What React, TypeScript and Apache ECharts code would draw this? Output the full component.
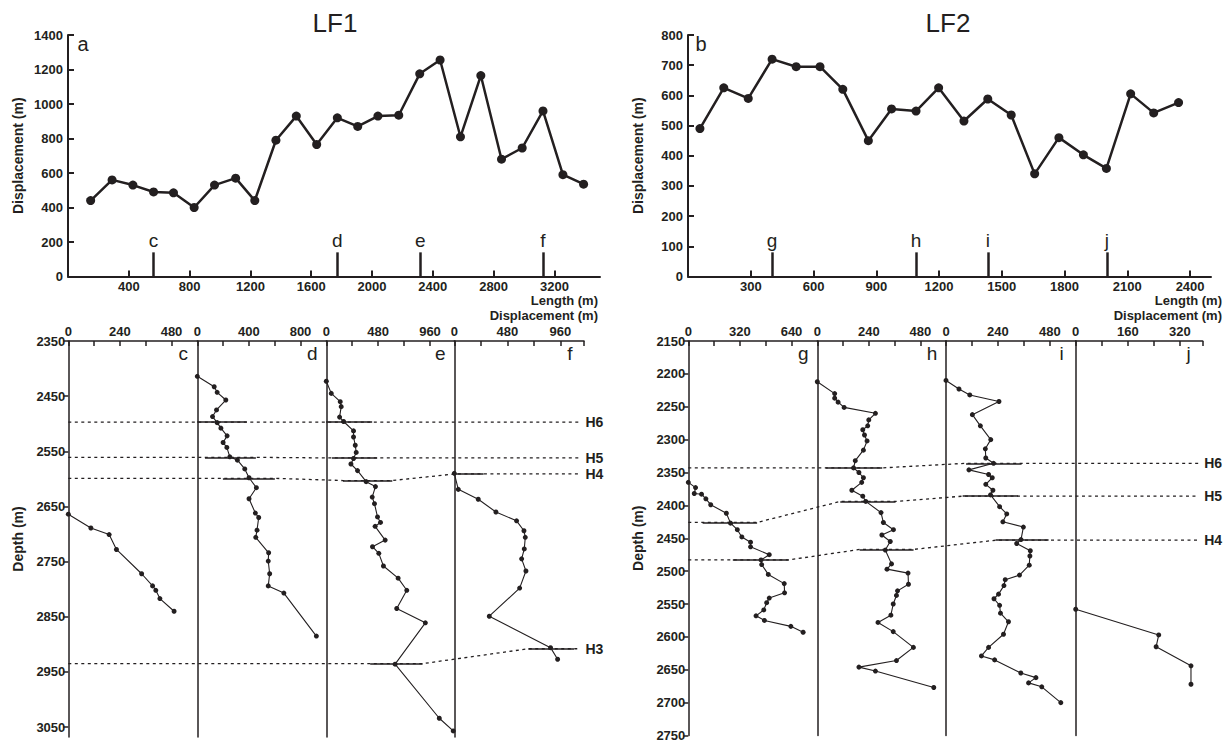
import { useEffect, useRef } from 'react';
import * as echarts from 'echarts';

const INK = '#231f20';
const FONT = '"Liberation Sans", Arial, Helvetica, sans-serif';

// ---------- top profiles ----------
const lf1Length = [149, 290, 427, 563, 694, 830, 964, 1103, 1229, 1368, 1502, 1636, 1772, 1906, 2039, 2176, 2314, 2448, 2582, 2716, 2852, 2988, 3125, 3256, 3392];
const lf1Displacement = [440, 560, 530, 490, 485, 400, 530, 570, 440, 790, 930, 765, 920, 870, 930, 935, 1175, 1255, 810, 1165, 680, 745, 960, 590, 535];
const lf1Wells = ['c', 'd', 'e', 'f'];
const lf1WellLength = [563, 1772, 2317, 3125];
const lf1WellMark = 140;
const lf1LengthTicks = [400, 800, 1200, 1600, 2000, 2400, 2800, 3200];
const lf1DisplacementTicks = [0, 200, 400, 600, 800, 1000, 1200, 1400];

const lf2Length = [57, 171, 288, 402, 517, 631, 740, 862, 973, 1090, 1198, 1319, 1433, 1545, 1657, 1773, 1890, 2000, 2116, 2226, 2345];
const lf2Displacement = [490, 625, 590, 720, 695, 695, 620, 450, 555, 548, 625, 515, 588, 535, 340, 460, 403, 358, 605, 542, 576];
const lf2Wells = ['g', 'h', 'i', 'j'];
const lf2WellLength = [402, 1090, 1433, 2002];
const lf2WellMark = 80;
const lf2LengthTicks = [300, 600, 900, 1200, 1500, 1800, 2100, 2400];
const lf2DisplacementTicks = [0, 100, 200, 300, 400, 500, 600, 700, 800];

// ---------- wells: [displacement, depth] ----------
const wellC = [[0, 2664], [105, 2689], [190, 2701], [224, 2728], [341, 2772], [392, 2794], [407, 2802], [426, 2817], [492, 2840]];
const wellD = [[0, 2414], [131, 2433], [154, 2443], [221, 2457], [149, 2475], [118, 2487], [154, 2498], [183, 2508], [231, 2522], [200, 2534], [229, 2543], [252, 2560], [311, 2566], [368, 2582], [401, 2598], [458, 2616], [401, 2636], [450, 2662], [476, 2670], [463, 2693], [453, 2706], [553, 2734], [550, 2749], [561, 2772], [550, 2794], [671, 2807], [923, 2885]];
const wellE = [[0, 2423], [46, 2445], [129, 2460], [138, 2469], [123, 2488], [160, 2496], [252, 2513], [252, 2524], [268, 2539], [277, 2552], [252, 2563], [228, 2573], [289, 2585], [369, 2605], [455, 2614], [425, 2633], [446, 2645], [474, 2669], [502, 2679], [452, 2686], [545, 2711], [428, 2723], [486, 2735], [529, 2758], [665, 2780], [745, 2802], [652, 2835], [917, 2861], [637, 2936], [1046, 3034], [1175, 3057]];
const wellF = [[0, 2590], [36, 2619], [217, 2637], [377, 2660], [564, 2676], [631, 2694], [643, 2706], [634, 2727], [610, 2745], [649, 2767], [592, 2798], [317, 2849], [872, 2906], [936, 2927]];

const wellG = [[0, 2365], [45, 2373], [37, 2382], [82, 2383], [109, 2390], [139, 2399], [236, 2412], [262, 2427], [304, 2437], [332, 2448], [386, 2456], [386, 2463], [502, 2475], [451, 2483], [455, 2490], [496, 2505], [595, 2519], [597, 2533], [502, 2541], [486, 2548], [468, 2559], [420, 2568], [472, 2575], [636, 2584], [712, 2593]];
const wellH = [[0, 2212], [81, 2230], [81, 2237], [97, 2243], [125, 2251], [271, 2260], [240, 2270], [235, 2279], [212, 2285], [220, 2293], [232, 2302], [215, 2316], [177, 2332], [169, 2343], [194, 2350], [215, 2358], [207, 2365], [161, 2377], [212, 2386], [226, 2394], [297, 2411], [308, 2426], [355, 2437], [301, 2445], [340, 2455], [317, 2468], [346, 2489], [325, 2497], [423, 2503], [425, 2520], [374, 2530], [369, 2537], [354, 2550], [343, 2567], [283, 2578], [354, 2592], [448, 2616], [369, 2636], [194, 2646], [271, 2652], [543, 2677]];
const wellI = [[0, 2210], [60, 2223], [110, 2232], [245, 2242], [122, 2262], [159, 2279], [207, 2300], [182, 2314], [184, 2328], [220, 2336], [106, 2346], [197, 2353], [214, 2358], [184, 2368], [217, 2377], [206, 2384], [248, 2402], [281, 2413], [263, 2425], [358, 2433], [347, 2452], [327, 2458], [390, 2469], [388, 2477], [385, 2491], [340, 2506], [274, 2513], [268, 2522], [243, 2535], [222, 2542], [248, 2552], [252, 2564], [289, 2577], [266, 2596], [197, 2616], [164, 2629], [225, 2635], [346, 2655], [416, 2662], [382, 2670], [443, 2676], [531, 2700]];
const wellJ = [[0, 2558], [255, 2597], [247, 2615], [354, 2644], [354, 2672]];

const lf1DepthTicks = [2350, 2450, 2550, 2650, 2750, 2850, 2950, 3050];
const lf2DepthTicks = [2150, 2200, 2250, 2300, 2350, 2400, 2450, 2500, 2550, 2600, 2650, 2700, 2750];

const lf1Panels = [
  { name: 'c', data: wellC, max: 600, ticks: [0, 120, 240, 360, 480], labels: [0, 240, 480] },
  { name: 'd', data: wellD, max: 1000, ticks: [0, 200, 400, 600, 800], labels: [0, 400, 800] },
  { name: 'e', data: wellE, max: 1185, ticks: [0, 240, 480, 720, 960], labels: [0, 480, 960] },
  { name: 'f', data: wellF, max: 1175, ticks: [0, 240, 480, 720, 960, 1175], labels: [0, 480, 960] },
];
const lf2Panels = [
  { name: 'g', data: wellG, max: 800, ticks: [0, 160, 320, 480, 640], labels: [0, 320, 640] },
  { name: 'h', data: wellH, max: 600, ticks: [0, 120, 240, 360, 480], labels: [0, 240, 480] },
  { name: 'i', data: wellI, max: 600, ticks: [0, 120, 240, 360, 480], labels: [0, 240, 480] },
  { name: 'j', data: wellJ, max: 390, ticks: [0, 80, 160, 240, 320, 390], labels: [0, 160, 320] },
];

// horizon picks: panel index, depth, solid tick from/to in that well's displacement units
const lf1Horizons = [
  { name: 'H6', picks: [{ panel: 1, depth: 2497, from: 0, to: 385 }, { panel: 2, depth: 2497, from: 0, to: 423 }] },
  { name: 'H5', picks: [{ panel: 1, depth: 2561, from: 60, to: 455 }, { panel: 2, depth: 2562, from: 53, to: 469 }] },
  { name: 'H4', picks: [{ panel: 1, depth: 2599, from: 199, to: 602 }, { panel: 2, depth: 2603, from: 155, to: 608 }, { panel: 3, depth: 2591, from: 0, to: 260 }] },
  { name: 'H3', picks: [{ panel: 2, depth: 2935, from: 405, to: 886 }, { panel: 3, depth: 2908, from: 668, to: 1084 }] },
];
const lf2Horizons = [
  { name: 'H6', picks: [{ panel: 1, depth: 2343, from: 41, to: 305 }, { panel: 2, depth: 2336, from: 96, to: 355 }] },
  { name: 'H5', picks: [{ panel: 0, depth: 2426, from: 89, to: 428 }, { panel: 1, depth: 2394, from: 109, to: 367 }, { panel: 2, depth: 2386, from: 80, to: 339 }] },
  { name: 'H4', picks: [{ panel: 0, depth: 2483, from: 277, to: 624 }, { panel: 1, depth: 2467, from: 199, to: 451 }, { panel: 2, depth: 2453, from: 234, to: 481 }] },
];

// ---------- layout (pixels) ----------
const topLeftBox = { left: 68, top: 35, width: 532, height: 241.5 };
const topRightBox = { left: 688, top: 35, width: 523, height: 241.5 };
const lf1PanelBoxes = [
  { left: 68.3, width: 129 }, { left: 197.3, width: 129 }, { left: 326.3, width: 128 }, { left: 454.3, width: 129.7 },
];
const lf2PanelBoxes = [
  { left: 688.3, width: 129 }, { left: 817.3, width: 128.7 }, { left: 946, width: 129.7 }, { left: 1075.7, width: 127 },
];
const bottomTop = 341;

function buildOption() {
  const grid: any[] = [];
  const xAxis: any[] = [];
  const yAxis: any[] = [];
  const series: any[] = [];
  const graphic: any[] = [];
  const txt = { color: INK, fontFamily: FONT, fontSize: 13, fontWeight: 'bold' as const };
  const plain = (v: number) => String(v);

  function addProfile(box: any, lengths: number[], disps: number[], xMax: number, yMax: number,
    xTicks: number[], yTicks: number[], wells: string[], wellPos: number[], markH: number) {
    const gi = grid.length;
    grid.push({ ...box });
    xAxis.push({
      gridIndex: gi, type: 'value', min: 0, max: xMax,
      axisLine: { show: true, onZero: false, lineStyle: { color: INK, width: 2 } },
      axisTick: { show: true, inside: true, length: 6, customValues: xTicks, lineStyle: { color: INK, width: 2 } },
      axisLabel: { show: true, customValues: xTicks, margin: 3, formatter: plain, ...txt },
      splitLine: { show: false },
    });
    yAxis.push({
      gridIndex: gi, type: 'value', min: 0, max: yMax,
      name: 'Displacement (m)', nameLocation: 'middle', nameGap: 43,
      nameTextStyle: { ...txt, fontSize: 14 },
      axisLine: { show: true, onZero: false, lineStyle: { color: INK, width: 2 } },
      axisTick: { show: true, inside: true, length: 6, customValues: yTicks, lineStyle: { color: INK, width: 2 } },
      axisLabel: { show: true, customValues: yTicks, margin: 5, formatter: plain, ...txt },
      splitLine: { show: false },
    });
    series.push({
      type: 'line', xAxisIndex: gi, yAxisIndex: gi,
      data: lengths.map((x, i) => [x, disps[i]]),
      symbol: 'circle', symbolSize: 9,
      lineStyle: { color: INK, width: 2.5 }, itemStyle: { color: INK },
      markLine: {
        silent: true, symbol: ['none', 'none'], animation: false,
        lineStyle: { color: INK, width: 2.5, type: 'solid' },
        label: { show: true, position: 'end', formatter: '{b}', color: INK, fontFamily: FONT, fontSize: 19, distance: 2 },
        data: wells.map((n, i) => [{ name: n, coord: [wellPos[i], 0] }, { coord: [wellPos[i], markH] }]),
      },
    });
  }

  function addWells(panels: any[], boxes: any[], dMin: number, dMax: number, height: number,
    depthTicks: number[], horizons: any[]) {
    panels.forEach((p, idx) => {
      const gi = grid.length;
      grid.push({ left: boxes[idx].left, width: boxes[idx].width, top: bottomTop, height });
      xAxis.push({
        gridIndex: gi, type: 'value', position: 'top', min: 0, max: p.max,
        axisLine: { show: true, onZero: false, lineStyle: { color: INK, width: 1.5 } },
        axisTick: { show: true, inside: true, length: 5, customValues: p.ticks, lineStyle: { color: INK, width: 1.5 } },
        axisLabel: { show: true, customValues: p.labels, margin: 3, formatter: plain, ...txt },
        splitLine: { show: false },
      });
      yAxis.push({
        gridIndex: gi, type: 'value', inverse: true, min: dMin, max: dMax,
        name: idx === 0 ? 'Depth (m)' : '', nameLocation: 'middle', nameGap: 43,
        nameTextStyle: { ...txt, fontSize: 14 },
        axisLine: { show: true, onZero: false, lineStyle: { color: INK, width: 1.5 } },
        axisTick: { show: idx === 0, inside: false, length: 5, customValues: depthTicks, lineStyle: { color: INK, width: 1.5 } },
        axisLabel: { show: idx === 0, customValues: depthTicks, margin: 3, formatter: plain, ...txt },
        splitLine: { show: false },
      });
      series.push({
        type: 'line', xAxisIndex: gi, yAxisIndex: gi, data: p.data,
        symbol: 'circle', symbolSize: 5, z: 3,
        lineStyle: { color: INK, width: 1.1 }, itemStyle: { color: INK },
      });
      const b = boxes[idx];
      graphic.push({
        type: 'text', x: b.left + b.width - 14, y: bottomTop + 12,
        style: { text: p.name, fill: INK, font: `19px ${FONT}`, align: 'center', verticalAlign: 'middle' },
      });
    });
    // overlay for horizons
    const oi = grid.length;
    const last = boxes[boxes.length - 1];
    grid.push({ left: boxes[0].left, width: last.left + last.width - boxes[0].left, top: bottomTop, height });
    xAxis.push({ gridIndex: oi, type: 'value', min: 0, max: panels.length, show: false });
    yAxis.push({ gridIndex: oi, type: 'value', inverse: true, min: dMin, max: dMax, show: false });
    const n = panels.length;
    const dashed = horizons.map((h) => {
      const pts: number[][] = [[0, h.picks[0].depth]];
      h.picks.forEach((pk: any) => {
        const m = panels[pk.panel].max;
        pts.push([pk.panel + pk.from / m, pk.depth]);
        pts.push([pk.panel + pk.to / m, pk.depth]);
      });
      pts.push([n - 0.03, h.picks[h.picks.length - 1].depth]);
      return { coords: pts };
    });
    const solid: any[] = [];
    horizons.forEach((h) => h.picks.forEach((pk: any) => {
      const m = panels[pk.panel].max;
      solid.push({ coords: [[pk.panel + pk.from / m, pk.depth], [pk.panel + pk.to / m, pk.depth]] });
    }));
    series.push({
      type: 'lines', coordinateSystem: 'cartesian2d', xAxisIndex: oi, yAxisIndex: oi,
      polyline: true, data: dashed, silent: true, z: 1,
      lineStyle: { color: INK, width: 1.3, type: [3, 3.5], opacity: 1 },
    });
    series.push({
      type: 'lines', coordinateSystem: 'cartesian2d', xAxisIndex: oi, yAxisIndex: oi,
      polyline: false, data: solid, silent: true, z: 2,
      lineStyle: { color: INK, width: 1.5, type: 'solid', opacity: 1 },
    });
    series.push({
      type: 'scatter', xAxisIndex: oi, yAxisIndex: oi, symbolSize: 1, silent: true,
      itemStyle: { color: 'rgba(0,0,0,0)' },
      data: horizons.map((h) => ({ value: [n, h.picks[h.picks.length - 1].depth], name: h.name })),
      label: { show: true, position: 'right', distance: 1, formatter: '{b}', color: INK, fontFamily: FONT, fontSize: 14, fontWeight: 'bold', opacity: 1 },
    });
  }

  addProfile(topLeftBox, lf1Length, lf1Displacement, 3500, 1400, lf1LengthTicks, lf1DisplacementTicks, lf1Wells, lf1WellLength, lf1WellMark);
  addProfile(topRightBox, lf2Length, lf2Displacement, 2500, 800, lf2LengthTicks, lf2DisplacementTicks, lf2Wells, lf2WellLength, lf2WellMark);
  addWells(lf1Panels, lf1PanelBoxes, 2350, 3068, 396, lf1DepthTicks, lf1Horizons);
  addWells(lf2Panels, lf2PanelBoxes, 2150, 2750, 394.5, lf2DepthTicks, lf2Horizons);

  const t = (text: string, x: number, y: number, size: number, align = 'center', weight = 'normal') => ({
    type: 'text', x, y,
    style: { text, fill: INK, font: `${weight} ${size}px ${FONT}`, align, verticalAlign: 'middle' },
  });
  graphic.push(t('LF1', 335, 23, 26));
  graphic.push(t('LF2', 948, 23, 26));
  graphic.push(t('a', 83, 44, 20));
  graphic.push(t('b', 701, 44, 20));
  graphic.push(t('Length (m)', 598, 300, 13, 'right', 'bold'));
  graphic.push(t('Displacement (m)', 598, 315, 13, 'right', 'bold'));
  graphic.push(t('Length (m)', 1222, 300, 13, 'right', 'bold'));
  graphic.push(t('Displacement (m)', 1222, 315, 13, 'right', 'bold'));

  return {
    animation: false,
    backgroundColor: '#ffffff',
    textStyle: { fontFamily: FONT, color: INK },
    grid, xAxis, yAxis, series, graphic,
  };
}

export default function App() {
  const ref = useRef<HTMLDivElement>(null);
  useEffect(() => {
    document.body.style.margin = '0';
    document.body.style.overflow = 'hidden';
    const chart = echarts.init(ref.current as HTMLDivElement, null, { renderer: 'svg' });
    chart.setOption(buildOption() as any);
    return () => chart.dispose();
  }, []);
  return <div ref={ref} style={{ width: 1231, height: 742, background: '#fff' }} />;
}
